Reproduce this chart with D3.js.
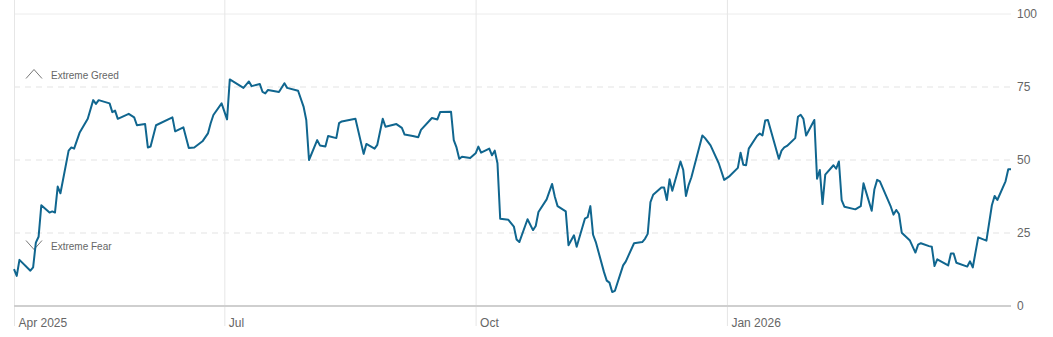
<!DOCTYPE html>
<html lang="en">
<head>
  <meta charset="UTF-8" />
  <title>Fear &amp; Greed Index</title>
  <style>
    body { margin: 0; padding: 0; background: #fff; font-family: "Liberation Sans", Arial, sans-serif; }
    svg { display: block; }
    .tick text { fill: #666; }
  </style>
  <script src="https://d3js.org/d3.v7.min.js"></script>
</head>
<body>
  <svg width="1053" height="337"></svg>

  <script>
    // one point per trading day that shows as a corner
    const dates = [
      "2025-04-15","2025-04-16","2025-04-17","2025-04-21","2025-04-22","2025-04-23","2025-04-24","2025-04-25",
      "2025-04-28","2025-04-29","2025-04-30","2025-05-01","2025-05-02","2025-05-05","2025-05-06","2025-05-07",
      "2025-05-09","2025-05-12","2025-05-14","2025-05-15","2025-05-16","2025-05-20","2025-05-21","2025-05-22",
      "2025-05-23","2025-05-27","2025-05-29","2025-05-30","2025-06-02","2025-06-03","2025-06-04","2025-06-06",
      "2025-06-12","2025-06-13","2025-06-16","2025-06-18","2025-06-20","2025-06-23","2025-06-25","2025-06-26",
      "2025-06-27","2025-06-30","2025-07-02","2025-07-03","2025-07-08","2025-07-10","2025-07-11","2025-07-14",
      "2025-07-15","2025-07-16","2025-07-17","2025-07-21","2025-07-23","2025-07-24","2025-07-28","2025-07-30",
      "2025-07-31","2025-08-01","2025-08-04","2025-08-05","2025-08-07","2025-08-08","2025-08-11","2025-08-12",
      "2025-08-13","2025-08-18","2025-08-21","2025-08-22","2025-08-25","2025-08-26","2025-08-28","2025-08-29",
      "2025-09-02","2025-09-04","2025-09-05","2025-09-08","2025-09-10","2025-09-11","2025-09-15","2025-09-17",
      "2025-09-18","2025-09-22","2025-09-23","2025-09-24","2025-09-25","2025-09-26","2025-09-29","2025-10-01",
      "2025-10-02","2025-10-03","2025-10-06","2025-10-07","2025-10-08","2025-10-09","2025-10-10","2025-10-13",
      "2025-10-15","2025-10-16","2025-10-17","2025-10-20","2025-10-22","2025-10-23","2025-10-24","2025-10-27",
      "2025-10-29","2025-10-30","2025-10-31","2025-11-03","2025-11-04","2025-11-06","2025-11-07","2025-11-10",
      "2025-11-11","2025-11-12","2025-11-13","2025-11-14","2025-11-17","2025-11-18","2025-11-19","2025-11-20",
      "2025-11-21","2025-11-24","2025-11-25","2025-11-28","2025-12-01","2025-12-02","2025-12-03","2025-12-04",
      "2025-12-05","2025-12-08","2025-12-09","2025-12-10","2025-12-11","2025-12-12","2025-12-15","2025-12-16",
      "2025-12-17","2025-12-18","2025-12-19","2025-12-23","2025-12-24","2025-12-26","2025-12-29","2025-12-31",
      "2026-01-02","2026-01-05","2026-01-06","2026-01-07","2026-01-08","2026-01-09","2026-01-12","2026-01-13",
      "2026-01-14","2026-01-15","2026-01-16","2026-01-20","2026-01-21","2026-01-22","2026-01-23","2026-01-26",
      "2026-01-27","2026-01-28","2026-01-29","2026-01-30","2026-02-02","2026-02-03","2026-02-04","2026-02-05",
      "2026-02-06","2026-02-09","2026-02-10","2026-02-11","2026-02-12","2026-02-13","2026-02-17","2026-02-19",
      "2026-02-20","2026-02-23","2026-02-24","2026-02-25","2026-02-26","2026-03-02","2026-03-03","2026-03-04",
      "2026-03-05","2026-03-06","2026-03-09","2026-03-11","2026-03-12","2026-03-13","2026-03-16","2026-03-17",
      "2026-03-18","2026-03-19","2026-03-23","2026-03-24","2026-03-25","2026-03-26","2026-03-30","2026-03-31",
      "2026-04-01","2026-04-03","2026-04-06","2026-04-08","2026-04-09","2026-04-10","2026-04-13","2026-04-14",
      "2026-04-15"
    ];
    const scores = [
      12.6, 10.3, 15.8, 12.1, 13.2, 21.7, 23.7, 34.5,
      32.0, 32.4, 32.0, 40.9, 38.6, 53.2, 54.3, 53.9,
      59.3, 64.1, 70.5, 69.2, 70.5, 69.4, 66.4, 66.9,
      64.1, 65.8, 64.6, 61.9, 62.3, 54.3, 54.6, 61.9,
      64.6, 59.8, 61.2, 54.1, 54.3, 56.4, 59.1, 62.6,
      65.4, 69.4, 63.9, 77.6, 74.7, 76.9, 75.3, 76.0,
      73.3, 72.8, 74.0, 73.3, 76.3, 74.7, 73.7, 68.3,
      63.7, 50.0, 56.8, 55.0, 54.6, 58.2, 57.5, 62.6,
      63.2, 64.1, 52.1, 55.5, 53.9, 55.2, 64.1, 61.4,
      62.3, 61.0, 58.7, 58.2, 57.8, 60.3, 64.4, 63.9,
      66.4, 66.5, 56.8, 54.3, 50.4, 51.1, 50.7, 52.3,
      54.6, 52.5, 53.9, 51.6, 53.2, 48.9, 29.9, 29.5,
      27.2, 22.8, 21.9, 29.7, 26.0, 27.4, 32.2, 36.5,
      41.8, 37.4, 34.2, 32.4, 20.8, 24.2, 20.3, 29.9,
      30.4, 34.2, 24.4, 21.9, 11.6, 8.7, 8.0, 4.8,
      5.2, 13.9, 15.3, 21.5, 21.9, 23.0, 24.7, 35.6,
      38.1, 40.6, 40.6, 36.3, 43.4, 39.5, 49.5, 46.6,
      37.7, 41.5, 44.1, 58.4, 57.5, 55.0, 48.9, 43.2,
      44.5, 47.3, 52.5, 48.4, 48.2, 53.9, 58.2, 59.1,
      58.4, 63.5, 63.7, 50.4, 53.2, 54.3, 54.8, 57.5,
      64.8, 65.5, 64.1, 58.4, 63.7, 43.6, 46.6, 34.9,
      45.0, 48.2, 47.0, 49.5, 36.3, 34.0, 33.1, 34.2,
      42.0, 32.6, 40.0, 43.2, 42.7, 34.0, 31.3, 32.9,
      31.5, 25.1, 22.4, 18.3, 21.0, 21.5, 20.5, 20.3,
      13.7, 16.0, 13.9, 18.0, 18.0, 14.8, 13.5, 15.3,
      13.2, 23.5, 22.4, 34.5, 37.7, 36.3, 42.7, 46.8,
      46.8
    ];

    const yTicks = [0, 25, 50, 75, 100];
    const xTickDates = ["2025-04-15", "2025-07-01", "2025-10-01", "2026-01-01"];
    const xTickLabels = ["Apr 2025", "Jul", "Oct", "Jan 2026"];
    const zoneLabels = [
      { name: "Extreme Greed", dir: "up" },
      { name: "Extreme Fear", dir: "down" }
    ];

    const parse = d3.timeParse("%Y-%m-%d");
    const data = dates.map((d, i) => ({ date: parse(d), value: scores[i] }));

    const svg = d3.select("svg");
    const plotLeft = 14, plotRight = 1011, plotTop = 14, plotBottom = 306;

    const x = d3.scaleTime()
      .domain([parse("2025-04-15"), parse("2026-04-15")])
      .range([plotLeft, plotRight]);
    const y = d3.scaleLinear().domain([0, 100]).range([plotBottom, plotTop]);

    // horizontal grid
    svg.append("g")
      .selectAll("line")
      .data(yTicks.filter(t => t > 0))
      .join("line")
      .attr("x1", plotLeft).attr("x2", plotRight)
      .attr("y1", d => y(d)).attr("y2", d => y(d))
      .attr("stroke", d => d === 100 ? "#ececec" : "#e3e3e3")
      .attr("stroke-dasharray", d => d === 100 ? null : "6,5");

    // month lines + labels
    const xAxis = svg.append("g")
      .attr("transform", `translate(0,${plotBottom})`)
      .call(d3.axisBottom(x)
        .tickValues(xTickDates.map(parse))
        .tickFormat((d, i) => xTickLabels[i])
        .tickSize(20));
    xAxis.select(".domain").remove();
    xAxis.selectAll(".tick line")
      .attr("y1", -plotBottom)
      .attr("y2", 20)
      .attr("stroke", "#e6e6e6");
    xAxis.selectAll(".tick text")
      .attr("text-anchor", "start")
      .attr("x", 4)
      .attr("y", 12)
      .attr("dy", "0.71em")
      .attr("font-size", 12)
      .attr("font-family", "Liberation Sans, Arial, sans-serif");

    // baseline
    svg.append("line")
      .attr("x1", plotLeft).attr("x2", plotRight)
      .attr("y1", y(0)).attr("y2", y(0))
      .attr("stroke", "#cfcfcf")
      .attr("stroke-width", 2);

    // right value axis
    const yAxis = svg.append("g")
      .attr("transform", `translate(${plotRight},0)`)
      .call(d3.axisRight(y).tickValues(yTicks).tickSize(0).tickPadding(6));
    yAxis.select(".domain").remove();
    yAxis.selectAll(".tick text")
      .attr("font-size", 12)
      .attr("font-family", "Liberation Sans, Arial, sans-serif");

    // zone markers
    const zones = svg.append("g")
      .selectAll("g")
      .data(zoneLabels)
      .join("g")
      .attr("transform", d => `translate(26,${d.dir === "up" ? 74 : 245})`);
    zones.append("path")
      .attr("d", d => d.dir === "up" ? "M0,4.5 L8,-4.5 L16,4.5" : "M0,-4.5 L8,4.5 L16,-4.5")
      .attr("fill", "none")
      .attr("stroke", "#777")
      .attr("stroke-width", 1);
    zones.append("text")
      .attr("x", 25)
      .attr("y", 1)
      .attr("dy", "0.35em")
      .attr("font-size", 10)
      .attr("fill", "#666")
      .text(d => d.name);

    // the index line
    const line = d3.line()
      .x(d => x(d.date))
      .y(d => y(d.value));

    svg.append("path")
      .datum(data)
      .attr("fill", "none")
      .attr("stroke", "#10668f")
      .attr("stroke-width", 2)
      .attr("stroke-linejoin", "round")
      .attr("d", line);
  </script>
</body>
</html>
